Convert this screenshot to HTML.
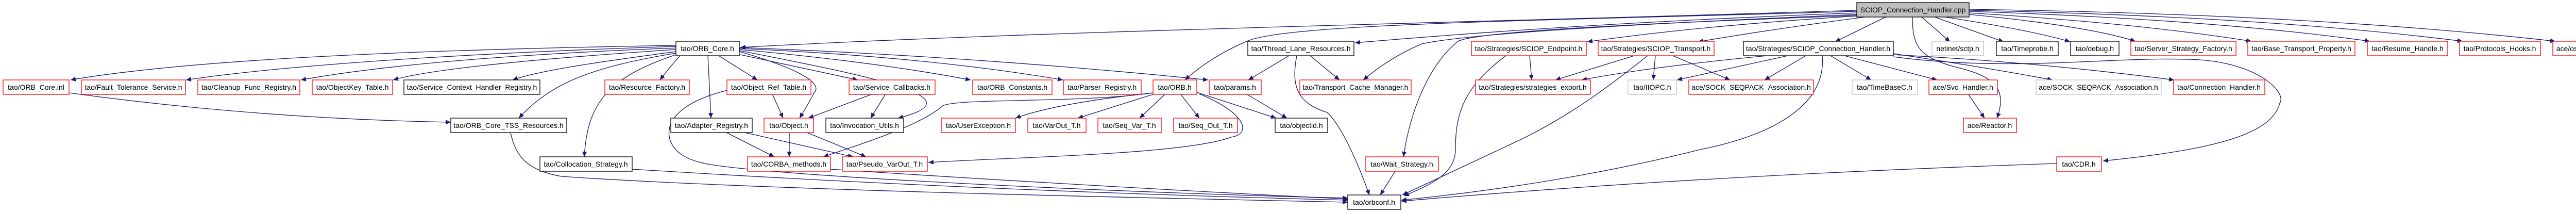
<!DOCTYPE html>
<html><head><meta charset="utf-8"><style>
html,body{margin:0;padding:0;background:#fff;}
svg{display:block;}
text{font-family:"Liberation Sans",sans-serif;font-size:14px;fill:#000;text-anchor:middle;}
.e{fill:none;stroke:#191970;stroke-width:1.3;marker-end:url(#a);}
.r{fill:#fff;stroke:#ff0000;stroke-width:1.3;}
.b{fill:#fff;stroke:#000;stroke-width:1.3;}
.g{fill:#fff;stroke:#bfbfbf;stroke-width:1.3;}
</style></head><body>
<svg width="5139" height="411" viewBox="0 0 5139 411" xmlns="http://www.w3.org/2000/svg">
<defs><marker id="a" markerUnits="userSpaceOnUse" markerWidth="11" markerHeight="9" refX="10" refY="4.5" orient="auto"><path d="M0,0 L10,4.5 L0,9 z" fill="#191970"/></marker></defs>
<g>
<path class="e" d="M3604,20 C3000,40 2000,60 1437,92"/>
<path class="e" d="M3604,25 C3200,40 2900,60 2630,83"/>
<path class="e" d="M3604,22 C3000,40 2500,45 2420,80 Q2350,110 2300,155"/>
<path class="e" d="M3604,28 C3200,45 2850,65 2760,85 Q2700,110 2646,155"/>
<path class="e" d="M3604,30 C3200,45 2870,60 2830,80 C2780,120 2740,200 2724,304"/>
<path class="e" d="M3604,31 Q3300,50 3081,81"/>
<path class="e" d="M3620,33 Q3450,55 3296,81"/>
<path class="e" d="M3660,33 L3562,81"/>
<path class="e" d="M3730,33 L3785,81"/>
<path class="e" d="M3755,33 L3889,81"/>
<path class="e" d="M3775,33 Q3950,60 4018,81"/>
<path class="e" d="M3822,28 Q4050,50 4145,80"/>
<path class="e" d="M3822,25 Q4150,45 4370,80"/>
<path class="e" d="M3822,22 Q4300,38 4600,80"/>
<path class="e" d="M3822,20 Q4400,32 4780,80"/>
<path class="e" d="M3822,18 Q4500,28 4960,80"/>
<path class="e" d="M3712,33 C3712,90 3725,110 3792,129 C3860,145 3900,165 3876,229"/>
<path class="e" d="M3675,104 Q3850,130 3984,155"/>
<path class="e" d="M3675,106 Q3950,120 4220,155"/>
<path class="e" d="M3675,110 C3900,140 4100,110 4240,115 C4380,115 4440,180 4425,200 C4410,260 4300,290 4082,312"/>
<path class="e" d="M3430,108 Q3200,130 3070,155"/>
<path class="e" d="M3470,108 L3255,155"/>
<path class="e" d="M3505,108 L3425,155"/>
<path class="e" d="M3553,108 L3632,155"/>
<path class="e" d="M3580,108 L3760,155"/>
<path class="e" d="M3537,108 C3545,200 3450,260 3300,290 C3100,340 2900,370 2720,388"/>
<path class="e" d="M3992,317 Q3300,340 2720,390"/>
<path class="e" d="M3172,108 L3019,155"/>
<path class="e" d="M3213,108 L3209,155"/>
<path class="e" d="M3247,108 L3358,155"/>
<path class="e" d="M3198,108 C3120,170 3040,230 2936,278 L2722,378"/>
<path class="e" d="M2969,108 L2973,155"/>
<path class="e" d="M2923,108 C2840,170 2825,220 2825,290 C2825,340 2770,360 2725,380"/>
<path class="e" d="M2708,332 L2679,378"/>
<path class="e" d="M2502,108 L2423,155"/>
<path class="e" d="M2543,108 L2600,155"/>
<path class="e" d="M2517,108 C2505,170 2520,200 2576,218 C2600,240 2630,300 2658,378"/>
<path class="e" d="M2419,182 L2498,229"/>
<path class="e" d="M2323,179 L2477,229"/>
<path class="e" d="M2238,180 Q2050,200 1971,229"/>
<path class="e" d="M2241,182 L2092,229"/>
<path class="e" d="M2262,182 L2212,229"/>
<path class="e" d="M2291,182 L2328,229"/>
<path class="e" d="M2328,182 C2420,220 2430,260 2389,266 C2300,300 1950,305 1802,315"/>
<path class="e" d="M2238,180 C2100,200 1860,190 1830,205 C1790,240 1700,270 1598,304"/>
<path class="e" d="M1312,88 C900,95 400,110 137,155"/>
<path class="e" d="M1312,90 C1000,100 600,120 361,155"/>
<path class="e" d="M1312,93 C1000,105 750,125 584,155"/>
<path class="e" d="M1312,96 C1100,110 850,130 763,155"/>
<path class="e" d="M1312,100 C1200,115 1050,135 995,155"/>
<path class="e" d="M1312,103 C1150,130 1070,160 1007,229"/>
<path class="e" d="M1312,106 C1180,150 1140,200 1134,304"/>
<path class="e" d="M1320,108 Q1300,130 1281,155"/>
<path class="e" d="M1374,108 L1380,229"/>
<path class="e" d="M1395,108 L1470,155"/>
<path class="e" d="M1435,100 C1540,130 1600,160 1580,180 Q1570,200 1552,229"/>
<path class="e" d="M1437,106 L1665,155"/>
<path class="e" d="M1435,98 C1700,150 1900,190 1743,229"/>
<path class="e" d="M1435,96 Q1700,120 1884,155"/>
<path class="e" d="M1435,94 Q1800,110 2063,155"/>
<path class="e" d="M1435,92 Q1900,110 2345,155"/>
<path class="e" d="M134,180 Q500,230 875,237"/>
<path class="e" d="M991,257 C1000,300 1020,330 1090,342 C1500,370 2300,385 2616,392"/>
<path class="e" d="M1227,328 Q1900,370 2616,388"/>
<path class="e" d="M1611,328 Q2100,360 2616,386"/>
<path class="e" d="M1412,175 C1330,195 1290,230 1300,270 C1310,300 1340,310 1360,315 C1450,340 2200,375 2616,384"/>
<path class="e" d="M1499,182 L1520,229"/>
<path class="e" d="M1694,182 L1569,229"/>
<path class="e" d="M1719,182 L1690,229"/>
<path class="e" d="M1408,256 L1503,304"/>
<path class="e" d="M1441,256 L1656,304"/>
<path class="e" d="M1532,256 L1532,304"/>
<path class="e" d="M1564,256 L1681,304"/>
<path class="e" d="M3820,182 L3852,229"/>
</g>
<g>
<rect x="3604" y="5" width="218" height="28" fill="#bfbfbf" stroke="#000" stroke-width="1.3"/><text x="3713" y="24">SCIOP_Connection_Handler.cpp</text>
<rect class="b" x="1312" y="80" width="123" height="28"/><text x="1373" y="99">tao/ORB_Core.h</text>
<rect class="b" x="2422" y="80" width="206" height="28"/><text x="2525" y="99">tao/Thread_Lane_Resources.h</text>
<rect class="r" x="2856" y="80" width="223" height="28"/><text x="2967" y="99">tao/Strategies/SCIOP_Endpoint.h</text>
<rect class="r" x="3102" y="80" width="225" height="28"/><text x="3214" y="99">tao/Strategies/SCIOP_Transport.h</text>
<rect class="b" x="3384" y="80" width="291" height="28"/><text x="3529" y="99">tao/Strategies/SCIOP_Connection_Handler.h</text>
<rect class="g" x="3750" y="80" width="100" height="28"/><text x="3800" y="99">netinet/sctp.h</text>
<rect class="b" x="3875" y="80" width="120" height="28"/><text x="3935" y="99">tao/Timeprobe.h</text>
<rect class="b" x="4019" y="80" width="94" height="28"/><text x="4066" y="99">tao/debug.h</text>
<rect class="r" x="4136" y="80" width="204" height="28"/><text x="4238" y="99">tao/Server_Strategy_Factory.h</text>
<rect class="r" x="4363" y="80" width="208" height="28"/><text x="4467" y="99">tao/Base_Transport_Property.h</text>
<rect class="r" x="4595" y="80" width="156" height="28"/><text x="4673" y="99">tao/Resume_Handle.h</text>
<rect class="r" x="4774" y="80" width="157" height="28"/><text x="4852" y="99">tao/Protocols_Hooks.h</text>
<rect class="r" x="4955" y="80" width="180" height="28"/><text x="5045" y="99">ace/os_include/os_netdb.h</text>

<rect class="r" x="6" y="155" width="128" height="28"/><text x="70" y="174">tao/ORB_Core.inl</text>
<rect class="r" x="158" y="155" width="202" height="28"/><text x="259" y="174">tao/Fault_Tolerance_Service.h</text>
<rect class="r" x="384" y="155" width="198" height="28"/><text x="483" y="174">tao/Cleanup_Func_Registry.h</text>
<rect class="r" x="606" y="155" width="156" height="28"/><text x="684" y="174">tao/ObjectKey_Table.h</text>
<rect class="b" x="784" y="155" width="264" height="28"/><text x="916" y="174">tao/Service_Context_Handler_Registry.h</text>
<rect class="r" x="1174" y="155" width="164" height="28"/><text x="1256" y="174">tao/Resource_Factory.h</text>
<rect class="r" x="1411" y="155" width="163" height="28"/><text x="1492" y="174">tao/Object_Ref_Table.h</text>
<rect class="r" x="1648" y="155" width="167" height="28"/><text x="1731" y="174">tao/Service_Callbacks.h</text>
<rect class="r" x="1888" y="155" width="154" height="28"/><text x="1965" y="174">tao/ORB_Constants.h</text>
<rect class="r" x="2064" y="155" width="151" height="28"/><text x="2139" y="174">tao/Parser_Registry.h</text>
<rect class="r" x="2238" y="155" width="85" height="28"/><text x="2280" y="174">tao/ORB.h</text>
<rect class="r" x="2347" y="155" width="101" height="28"/><text x="2397" y="174">tao/params.h</text>
<rect class="r" x="2523" y="155" width="216" height="28"/><text x="2631" y="174">tao/Transport_Cache_Manager.h</text>
<rect class="r" x="2864" y="155" width="223" height="28"/><text x="2975" y="174">tao/Strategies/strategies_export.h</text>
<rect class="g" x="3160" y="155" width="94" height="28"/><text x="3207" y="174">tao/IIOPC.h</text>
<rect class="r" x="3278" y="155" width="242" height="28"/><text x="3399" y="174">ace/SOCK_SEQPACK_Association.h</text>
<rect class="g" x="3595" y="155" width="127" height="28"/><text x="3658" y="174">tao/TimeBaseC.h</text>
<rect class="r" x="3744" y="155" width="133" height="28"/><text x="3810" y="174">ace/Svc_Handler.h</text>
<rect class="g" x="3952" y="155" width="243" height="28"/><text x="4073" y="174">ace/SOCK_SEQPACK_Association.h</text>
<rect class="r" x="4219" y="155" width="177" height="28"/><text x="4307" y="174">tao/Connection_Handler.h</text>

<rect class="b" x="875" y="229" width="225" height="28"/><text x="987" y="248">tao/ORB_Core_TSS_Resources.h</text>
<rect class="b" x="1302" y="229" width="158" height="28"/><text x="1381" y="248">tao/Adapter_Registry.h</text>
<rect class="r" x="1483" y="229" width="96" height="28"/><text x="1531" y="248">tao/Object.h</text>
<rect class="b" x="1603" y="229" width="151" height="28"/><text x="1678" y="248">tao/Invocation_Utils.h</text>
<rect class="r" x="1827" y="229" width="144" height="28"/><text x="1899" y="248">tao/UserException.h</text>
<rect class="r" x="1995" y="229" width="113" height="28"/><text x="2051" y="248">tao/VarOut_T.h</text>
<rect class="r" x="2131" y="229" width="123" height="28"/><text x="2192" y="248">tao/Seq_Var_T.h</text>
<rect class="r" x="2278" y="229" width="124" height="28"/><text x="2340" y="248">tao/Seq_Out_T.h</text>
<rect class="b" x="2475" y="229" width="102" height="28"/><text x="2526" y="248">tao/objectid.h</text>
<rect class="r" x="3811" y="229" width="103" height="28"/><text x="3862" y="248">ace/Reactor.h</text>

<rect class="b" x="1048" y="304" width="179" height="28"/><text x="1137" y="323">tao/Collocation_Strategy.h</text>
<rect class="r" x="1451" y="304" width="161" height="28"/><text x="1531" y="323">tao/CORBA_methods.h</text>
<rect class="r" x="1635" y="304" width="165" height="28"/><text x="1717" y="323">tao/Pseudo_VarOut_T.h</text>
<rect class="r" x="2651" y="304" width="141" height="28"/><text x="2721" y="323">tao/Wait_Strategy.h</text>
<rect class="r" x="3992" y="304" width="87" height="28"/><text x="4035" y="323">tao/CDR.h</text>

<rect class="b" x="2616" y="378" width="103" height="28"/><text x="2667" y="397">tao/orbconf.h</text>
</g>
</svg>
</body></html>
